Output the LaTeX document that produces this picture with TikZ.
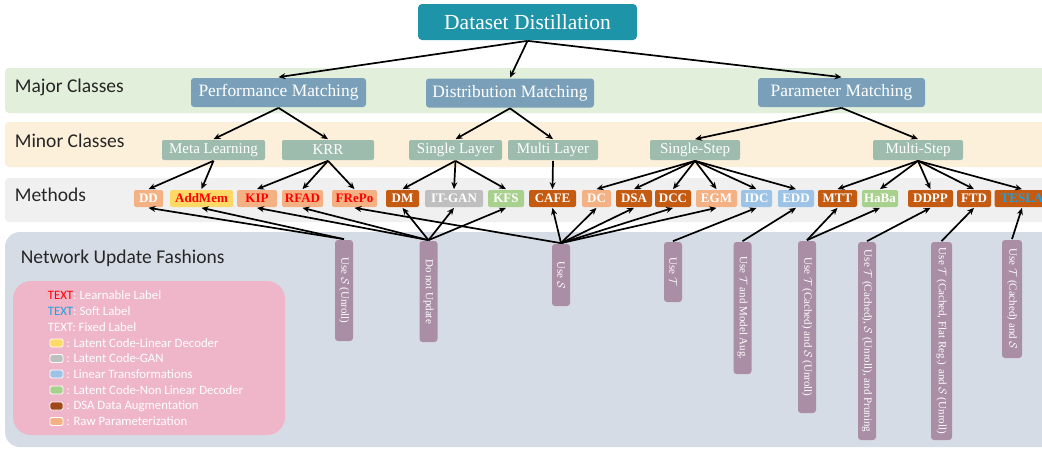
\documentclass[tikz,border=0pt]{standalone}
\usepackage{fontspec}
\setmainfont{Liberation Serif}
\newfontfamily\califont{Carlito}
\usetikzlibrary{arrows.meta}

\definecolor{titlec}{RGB}{30,148,168}
\definecolor{majorc}{RGB}{122,160,185}
\definecolor{minorc}{RGB}{157,188,173}
\definecolor{bandmaj}{RGB}{226,239,218}
\definecolor{bandmin}{RGB}{253,240,218}
\definecolor{bandmet}{RGB}{240,240,240}
\definecolor{bandupd}{RGB}{214,220,229}
\definecolor{legc}{RGB}{238,182,200}
\definecolor{updc}{RGB}{169,142,165}
\definecolor{raw}{RGB}{244,177,131}
\definecolor{dsac}{RGB}{197,90,17}
\definecolor{dsasw}{RGB}{160,72,26}
\definecolor{yel}{RGB}{255,217,102}
\definecolor{gry}{RGB}{191,191,191}
\definecolor{blu}{RGB}{157,195,230}
\definecolor{grn}{RGB}{169,209,142}
\definecolor{learnc}{RGB}{255,0,0}
\definecolor{softc}{RGB}{30,160,225}

\begin{document}
\begin{tikzpicture}
	[x=1pt,y=-1pt,line width=1.7pt,
	arr/.style={-{Stealth[length=7pt,width=6pt]}},
	major/.style={fill=majorc,text=white,rounded corners=3pt,minimum height=29pt,inner sep=0pt,font=\fontsize{17.4}{19}\selectfont},
	minor/.style={fill=minorc,text=white,rounded corners=2pt,minimum height=20pt,inner sep=0pt,font=\fontsize{15}{17}\selectfont},
	meth/.style={text=white,rounded corners=2pt,minimum height=17pt,inner sep=0pt,font=\bfseries\fontsize{13}{15}\selectfont},
	upd/.style={fill=updc,text=white,rounded corners=3pt,rotate=-90,minimum height=18pt,inner sep=0pt,font=\fontsize{11}{13}\selectfont},
	bandlbl/.style={anchor=west,text=black!85,inner sep=0pt,font=\califont\fontsize{19.5}{21}\selectfont},
	leg/.style={anchor=west,text=white,inner sep=0pt,font=\califont\fontsize{12.8}{14}\selectfont},
	swatch/.style={draw=white,line width=0.8pt,rounded corners=1.5pt,minimum width=13pt,minimum height=8pt,inner sep=0pt}]
	\useasboundingbox (0,0) rectangle (1042,451);

	\fill[bandmaj,rounded corners=4pt] (5,68) rectangle (1060,113);
	\fill[bandmin,rounded corners=4pt] (5,122) rectangle (1060,167);
	\fill[bandmet,rounded corners=4pt] (5,178) rectangle (1060,222);
	\fill[bandupd,rounded corners=15pt] (5,232) rectangle (1060,447);

	\node[bandlbl] (lmaj) at (14,87) {Major Classes};
	\node[bandlbl] (lmin) at (14,141) {Minor Classes};
	\node[bandlbl] (lmet) at (14,195) {Methods};
	\node[bandlbl] (lupd) at (20,258) {Network Update Fashions};

	\node[fill=titlec,text=white,rounded corners=4pt,minimum width=219pt,minimum height=36pt,inner sep=0pt,font=\fontsize{21.5}{23}\selectfont] (root) at (527.5,22) {Dataset Distillation};

	\node[major,minimum width=175pt] (perf) at (278.5,92.5) {Performance Matching};
	\node[major,minimum width=168pt] (dist) at (510,93) {Distribution Matching};
	\node[major,minimum width=167pt] (param) at (841.5,92.5) {Parameter Matching};

	\node[minor,minimum width=103pt] (meta) at (213.5,150) {Meta Learning};
	\node[minor,minimum width=92pt] (krr) at (328,150) {KRR};
	\node[minor,minimum width=93pt] (single) at (455.5,150) {Single Layer};
	\node[minor,minimum width=90pt] (multi) at (553,150) {Multi Layer};
	\node[minor,minimum width=90pt] (sstep) at (695,150) {Single-Step};
	\node[minor,minimum width=90pt] (mstep) at (918,150) {Multi-Step};

	\node[meth,fill=raw,minimum width=29pt] (dd) at (148.5,198.5) {DD};
	\node[meth,fill=yel,text=learnc,minimum width=63pt] (addmem) at (201.5,198.5) {AddMem};
	\node[meth,fill=raw,text=learnc,minimum width=40pt] (kip) at (257,198.5) {KIP};
	\node[meth,fill=raw,text=learnc,minimum width=41pt] (rfad) at (302.5,198.5) {RFAD};
	\node[meth,fill=raw,text=learnc,minimum width=45pt] (frepo) at (354.5,198.5) {FRePo};
	\node[meth,fill=dsac,minimum width=33pt] (dm) at (402.5,198.5) {DM};
	\node[meth,fill=gry,minimum width=58pt] (itgan) at (454,198.5) {IT-GAN};
	\node[meth,fill=grn,minimum width=36pt] (kfs) at (506,198.5) {KFS};
	\node[meth,fill=dsac,minimum width=47pt] (cafe) at (552.5,198.5) {CAFE};
	\node[meth,fill=raw,minimum width=29pt] (dc) at (596.5,198.5) {DC};
	\node[meth,fill=dsac,minimum width=36pt] (dsa) at (634,198.5) {DSA};
	\node[meth,fill=dsac,minimum width=36pt] (dcc) at (673,198.5) {DCC};
	\node[meth,fill=raw,minimum width=41pt] (egm) at (716.5,198.5) {EGM};
	\node[meth,fill=blu,minimum width=31pt] (idc) at (756.5,198.5) {IDC};
	\node[meth,fill=blu,minimum width=36pt] (edd) at (796,198.5) {EDD};
	\node[meth,fill=dsac,minimum width=39pt] (mtt) at (837.5,198.5) {MTT};
	\node[meth,fill=grn,minimum width=36pt] (haba) at (880,198.5) {HaBa};
	\node[meth,fill=dsac,minimum width=45pt] (ddpp) at (930.5,198.5) {DDPP};
	\node[meth,fill=dsac,minimum width=34pt] (ftd) at (974,198.5) {FTD};
	\node[meth,fill=dsac,text=softc,minimum width=55pt] (tesla) at (1022,198.5) {TESLA};

	\node[upd,minimum width=101pt] (u1) at (344,290.5) {Use $\mathcal{S}$ (Unroll)};
	\node[upd,minimum width=101pt] (u2) at (428.5,291.5) {Do not Update};
	\node[upd,minimum width=62pt] (u3) at (561,275) {Use $\mathcal{S}$};
	\node[upd,minimum width=60pt] (u4) at (673,272) {Use $\mathcal{T}$};
	\node[upd,minimum width=132pt] (u5) at (742.5,308) {Use $\mathcal{T}$ and Model Aug.};
	\node[upd,minimum width=172pt] (u6) at (807,327) {Use $\mathcal{T}$ (Cached) and $\mathcal{S}$ (Unroll)};
	\node[upd,minimum width=198pt] (u7) at (867,341) {Use $\mathcal{T}$ (Cached), $\mathcal{S}$ (Unroll), and Pruning};
	\node[upd,minimum width=198pt,minimum height=21pt] (u8) at (941.5,341) {Use $\mathcal{T}$ (Cached, Flat Reg.) and $\mathcal{S}$ (Unroll)};
	\node[upd,minimum width=118pt,minimum height=20pt] (u9) at (1012,299) {Use $\mathcal{T}$ (Cached) and $\mathcal{S}$};

	\draw[arr] (root.south) -- (perf.north);
	\draw[arr] (root.south) -- (dist.north);
	\draw[arr] (root.south) -- (param.north);

	\draw[arr] (perf.south) -- (meta.north);
	\draw[arr] (perf.south) -- (krr.north);
	\draw[arr] (dist.south) -- (single.north);
	\draw[arr] (dist.south) -- (multi.north);
	\draw[arr] (param.south) -- (sstep.north);
	\draw[arr] (param.south) -- (mstep.north);

	\draw[arr] (meta.south) -- (dd.north);
	\draw[arr] (meta.south) -- (addmem.north);
	\draw[arr] (krr.south) -- (kip.north);
	\draw[arr] (krr.south) -- (rfad.north);
	\draw[arr] (krr.south) -- (frepo.north);
	\draw[arr] (single.south) -- (dm.north);
	\draw[arr] (single.south) -- (itgan.north);
	\draw[arr] (single.south) -- (kfs.north);
	\draw[arr] (multi.south) -- (cafe.north);
	\draw[arr] (sstep.south) -- (dc.north);
	\draw[arr] (sstep.south) -- (dsa.north);
	\draw[arr] (sstep.south) -- (dcc.north);
	\draw[arr] (sstep.south) -- (egm.north);
	\draw[arr] (sstep.south) -- (idc.north);
	\draw[arr] (sstep.south) -- (edd.north);
	\draw[arr] (mstep.south) -- (mtt.north);
	\draw[arr] (mstep.south) -- (haba.north);
	\draw[arr] (mstep.south) -- (ddpp.north);
	\draw[arr] (mstep.south) -- (ftd.north);
	\draw[arr] (mstep.south) -- (tesla.north);

	\draw[arr] (u1.west) -- (dd.south);
	\draw[arr] (u1.west) -- (addmem.south);
	\draw[arr] (u2.west) -- (kip.south);
	\draw[arr] (u2.west) -- (rfad.south);
	\draw[arr] (u2.west) -- (dm.south);
	\draw[arr] (u2.west) -- (itgan.south);
	\draw[arr] (u2.west) -- (kfs.south);
	\draw[arr] (u3.west) -- (frepo.south);
	\draw[arr] (u3.west) -- (cafe.south);
	\draw[arr] (u3.west) -- (dc.south);
	\draw[arr] (u3.west) -- (dsa.south);
	\draw[arr] (u3.west) -- (dcc.south);
	\draw[arr] (u3.west) -- (egm.south);
	\draw[arr] (u4.west) -- (idc.south);
	\draw[arr] (u5.west) -- (edd.south);
	\draw[arr] (u6.west) -- (mtt.south);
	\draw[arr] (u6.west) -- (haba.south);
	\draw[arr] (u7.west) -- (ddpp.south);
	\draw[arr] (u8.west) -- (ftd.south);
	\draw[arr] (u9.west) -- (tesla.south);

	\fill[legc,rounded corners=18pt] (13,281) rectangle (285,435);
	\node[leg] (l1) at (47,295) {\textcolor{learnc}{TEXT}: Learnable Label};
	\node[leg] (l2) at (47,311) {\textcolor{softc}{TEXT}: Soft Label};
	\node[leg] (l3) at (47,327) {TEXT: Fixed Label};
	\node[swatch,fill=yel] (s1) at (56.5,343) {};
	\node[leg] (l4) at ([xshift=2pt]s1.east) {: Latent Code-Linear Decoder};
	\node[swatch,fill=gry] (s2) at (56.5,358.5) {};
	\node[leg] (l5) at ([xshift=2pt]s2.east) {: Latent Code-GAN};
	\node[swatch,fill=blu] (s3) at (56.5,374) {};
	\node[leg] (l6) at ([xshift=2pt]s3.east) {: Linear Transformations};
	\node[swatch,fill=grn] (s4) at (56.5,390) {};
	\node[leg] (l7) at ([xshift=2pt]s4.east) {: Latent Code-Non Linear Decoder};
	\node[swatch,fill=dsasw] (s5) at (56.5,406) {};
	\node[leg] (l8) at ([xshift=2pt]s5.east) {: DSA Data Augmentation};
	\node[swatch,fill=raw] (s6) at (56.5,421.5) {};
	\node[leg] (l9) at ([xshift=2pt]s6.east) {: Raw Parameterization};
\end{tikzpicture}
\end{document}
